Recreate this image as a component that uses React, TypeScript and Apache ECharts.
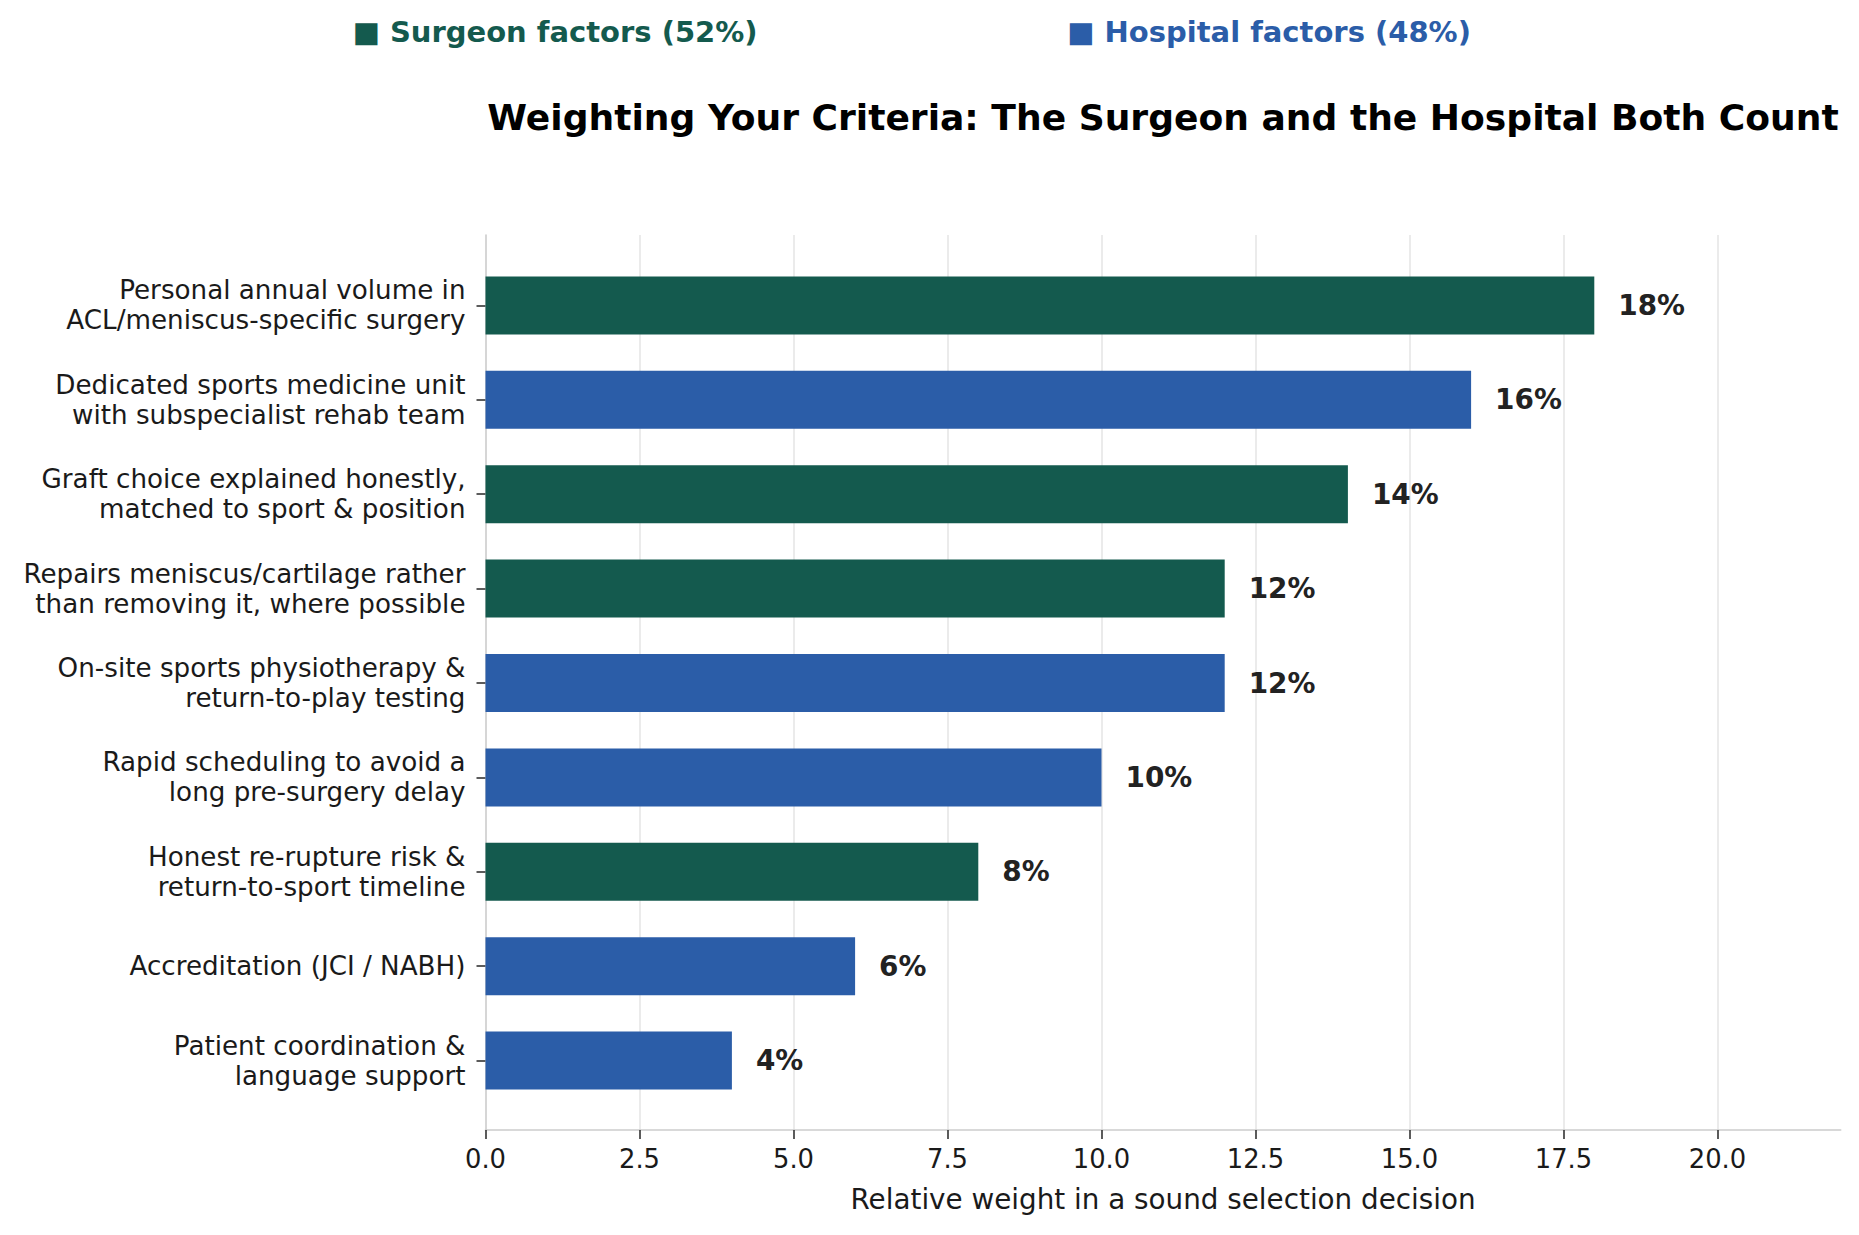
import React, { useEffect, useRef } from "react";
import * as echarts from "echarts";

const categories = [
  "Personal annual volume in\nACL/meniscus-specific surgery",
  "Dedicated sports medicine unit\nwith subspecialist rehab team",
  "Graft choice explained honestly,\nmatched to sport & position",
  "Repairs meniscus/cartilage rather\nthan removing it, where possible",
  "On-site sports physiotherapy &\nreturn-to-play testing",
  "Rapid scheduling to avoid a\nlong pre-surgery delay",
  "Honest re-rupture risk &\nreturn-to-sport timeline",
  "Accreditation (JCI / NABH)",
  "Patient coordination &\nlanguage support",
];
const values = [18, 16, 14, 12, 12, 10, 8, 6, 4];
const groups = ["Surgeon", "Hospital", "Surgeon", "Surgeon", "Hospital", "Hospital", "Surgeon", "Hospital", "Hospital"];
const xTicks = [0, 2.5, 5, 7.5, 10, 12.5, 15, 17.5, 20];
const xMax = 22;

const TITLE = "Weighting Your Criteria: The Surgeon and the Hospital Both Count";
const X_NAME = "Relative weight in a sound selection decision";

const COLORS: Record<string, string> = { Surgeon: "#145A4E", Hospital: "#2B5DA8" };
const FONT = "DejaVu Sans";

export default function App() {
  const ref = useRef<HTMLDivElement>(null);
  useEffect(() => {
    if (!ref.current) return;
    const chart = echarts.init(ref.current, undefined, { renderer: "svg" });
    const sumOf = (g: string) => values.reduce((s, v, i) => (groups[i] === g ? s + v : s), 0);
    const L = 485.5;
    const R = 18.3;
    chart.setOption({
      animation: false,
      backgroundColor: "#ffffff",
      grid: [
        { left: L, right: R, top: 235, bottom: 105 },
        { left: L, right: R, top: 258.3, bottom: 127.3 },
      ],
      xAxis: [
        {
          gridIndex: 0,
          type: "value",
          min: 0,
          max: xMax,
          interval: 2.5,
          name: X_NAME,
          nameLocation: "middle",
          nameGap: 55,
          nameTextStyle: { fontFamily: FONT, fontSize: 27.8, color: "#1a1a1a" },
          axisLine: { show: true, lineStyle: { color: "#cccccc", width: 1.6 } },
          axisTick: { show: true, length: 9, customValues: xTicks, lineStyle: { color: "#333333", width: 1.6 } },
          axisLabel: {
            customValues: xTicks,
            margin: 16,
            fontFamily: FONT,
            fontSize: 25.8,
            color: "#1a1a1a",
            formatter: (v: number) => v.toFixed(1),
          },
          splitLine: { show: true, showMinLine: false, lineStyle: { color: "#e6e6e6", width: 1.6 } },
        },
        { gridIndex: 1, type: "value", min: 0, max: xMax, show: false },
      ],
      yAxis: [
        {
          gridIndex: 0,
          type: "value",
          min: 0,
          max: 1,
          axisLine: { show: true, lineStyle: { color: "#cccccc", width: 1.6 } },
          axisTick: { show: false },
          axisLabel: { show: false },
          splitLine: { show: false },
        },
        {
          gridIndex: 1,
          type: "category",
          inverse: true,
          data: categories,
          axisLine: { show: false },
          axisTick: { show: true, alignWithLabel: true, length: 9, lineStyle: { color: "#333333", width: 1.6 } },
          axisLabel: {
            margin: 20,
            fontFamily: FONT,
            fontSize: 26.2,
            lineHeight: 30,
            color: "#1a1a1a",
            align: "right",
          },
          splitLine: { show: false },
        },
      ],
      series: [
        {
          type: "bar",
          xAxisIndex: 1,
          yAxisIndex: 1,
          barWidth: 58,
          data: values.map((v, i) => ({ value: v, itemStyle: { color: COLORS[groups[i]] } })),
          label: {
            show: true,
            position: "right",
            distance: 24,
            formatter: (p: any) => `${p.value}%`,
            fontFamily: FONT,
            fontSize: 27.9,
            fontWeight: "bold",
            color: "#222222",
          },
        },
      ],
      graphic: [
        {
          type: "text",
          x: 1163,
          y: 118,
          style: {
            text: TITLE,
            fontFamily: FONT,
            fontSize: 36.1,
            fontWeight: "bold",
            fill: "#000000",
            align: "center",
            verticalAlign: "middle",
          },
        },
        {
          type: "text",
          x: 555,
          y: 32,
          style: {
            text: `■ Surgeon factors (${sumOf("Surgeon")}%)`,
            fontFamily: FONT,
            fontSize: 29,
            fontWeight: "bold",
            fill: COLORS.Surgeon,
            align: "center",
            verticalAlign: "middle",
          },
        },
        {
          type: "text",
          x: 1269,
          y: 32,
          style: {
            text: `■ Hospital factors (${sumOf("Hospital")}%)`,
            fontFamily: FONT,
            fontSize: 29,
            fontWeight: "bold",
            fill: COLORS.Hospital,
            align: "center",
            verticalAlign: "middle",
          },
        },
      ],
    });
    return () => chart.dispose();
  }, []);
  return (
    <div
      ref={ref}
      style={{ position: "absolute", left: 0, top: 0, width: 1859, height: 1235, background: "#fff" }}
    />
  );
}
